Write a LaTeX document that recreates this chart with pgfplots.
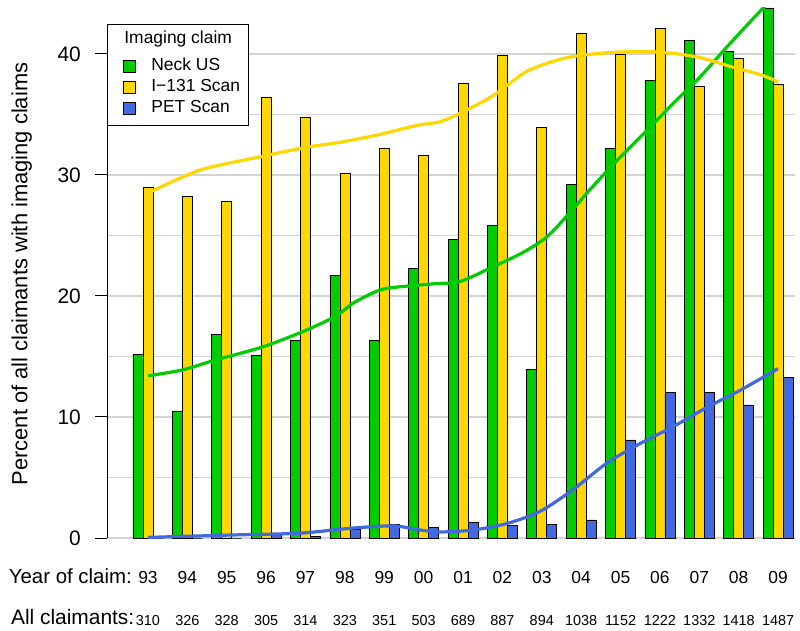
\documentclass[border=0pt]{standalone}
\usepackage{fontspec}
\setmainfont{Liberation Sans}
\usepackage{pgfplots}
\pgfplotsset{compat=1.18}
\definecolor{cgreen}{HTML}{00CD00}
\definecolor{cgold}{HTML}{FFD700}
\definecolor{cblue}{HTML}{4169E1}
\definecolor{cgrid}{HTML}{D3D3D3}
\pgfplotsset{sqlegend/.style={legend image code/.code={\path[draw=none,fill=none] (0bp,0bp) -- (28bp,0bp); \draw[fill=#1,draw=black,line width=0.7bp] (8bp,-8bp) rectangle (20bp,4bp);}}}
\begin{document}
\begin{tikzpicture}
\begin{axis}[
  at={(0,0)}, anchor=south west,
  scale only axis, width=688bp, height=530bp,
  xmin=-1.04, xmax=16.43, ymin=0, ymax=43.8,
  axis line style={draw=none},
  tick align=outside,
  major tick length=12bp, minor tick length=0pt,
  ytick pos=left, xtick pos=bottom,
  /pgf/number format/assume math mode=true,
  xtick={0,...,16},
  xticklabels={93,94,95,96,97,98,99,00,01,02,03,04,05,06,07,08,09},
  xtick style={draw=none},
  xticklabel style={font=\fontsize{17.5}{17.5}\selectfont, anchor=base, yshift=-33bp},
  extra x ticks={0,...,16},
  extra x tick labels={310,326,328,305,314,323,351,503,689,887,894,1038,1152,1222,1332,1418,1487},
  extra x tick style={grid=none, xtick style={draw=none}, xticklabel style={font=\fontsize{14.5}{14.5}\selectfont, yshift=-42bp}},
  ytick={0,10,20,30,40}, minor ytick={5,15,25,35},
  ymajorgrids, yminorgrids,
  major grid style={cgrid, line width=1.2bp},
  minor grid style={cgrid, line width=1.2bp},
  ytick style={black, line width=1bp},
  yticklabel style={font=\fontsize{21}{21}\selectfont, inner xsep=0bp, xshift=-14bp},
  legend style={at={(0,0.9698)}, anchor=north west, draw=black, line width=0.8bp, fill=white,
    inner xsep=8bp, inner ysep=8.5bp, column sep=8bp, row sep=0pt,
    font=\fontsize{17.5}{17.5}\selectfont,
    nodes={inner xsep=0bp, inner ysep=2bp, text height=15bp, text depth=2bp}},
  legend cell align=left,
]
\addlegendimage{empty legend}
\addlegendentry{\hspace*{-27bp}\raisebox{6bp}{Imaging claim}}
\addplot[ybar, bar width=0.254, bar shift=-0.254, fill=cgreen, draw=black, line width=0.7bp, sqlegend=cgreen]
  coordinates {(0,15.2) (1,10.5) (2,16.8) (3,15.1) (4,16.3) (5,21.7) (6,16.3) (7,22.3) (8,24.7) (9,25.8) (10,13.9) (11,29.2) (12,32.2) (13,37.8) (14,41.1) (15,40.2) (16,43.8)};
\addlegendentry{Neck US}
\addplot[ybar, bar width=0.254, bar shift=0, fill=cgold, draw=black, line width=0.7bp, sqlegend=cgold]
  coordinates {(0,29.0) (1,28.2) (2,27.8) (3,36.4) (4,34.8) (5,30.1) (6,32.2) (7,31.6) (8,37.6) (9,39.9) (10,33.9) (11,41.7) (12,40.0) (13,42.1) (14,37.3) (15,39.6) (16,37.5)};
\addlegendentry{I\char"2212 131 Scan}
\addplot[ybar, bar width=0.254, bar shift=0.254, fill=cblue, draw=black, line width=0.7bp, sqlegend=cblue]
  coordinates {(0,0) (1,0) (2,0) (3,0.3) (4,0.1) (5,0.75) (6,1.15) (7,0.85) (8,1.3) (9,1.05) (10,1.15) (11,1.5) (12,8.1) (13,12.0) (14,12.0) (15,11.0) (16,13.3)};
\addlegendentry{PET Scan}
% smoothed trend lines
\addplot[smooth, mark=none, cgreen, line width=3.2bp, forget plot]
  coordinates {(0,13.4) (0.889,13.9) (1.702,14.7) (2.921,15.8) (4.038,17.2) (4.8,18.4) (5.206,19.4) (5.816,20.4) (6.222,20.7) (7.238,21.0) (7.924,21.2) (8.686,22.3) (9.524,23.6) (10.133,24.9) (10.717,26.9) (11.225,28.8) (11.911,31.2) (12.673,33.7) (13.333,35.9) (14.019,38.1) (14.705,40.6) (15.619,43.8) (16,45.1)};
\addplot[smooth, mark=none, cgold, line width=3.2bp, forget plot]
  coordinates {(0,28.5) (1.321,30.4) (2.844,31.5) (4.038,32.3) (4.876,32.7) (5.816,33.3) (6.832,34.1) (7.416,34.4) (7.924,35.1) (8.686,36.4) (9.117,37.4) (9.702,38.7) (10.641,39.7) (11.657,40.1) (12.495,40.2) (13.181,40.1) (14.019,39.7) (14.857,38.9) (15.543,38.3) (16,37.7)};
\addplot[smooth, mark=none, cblue, line width=3.2bp, forget plot]
  coordinates {(0,0.05) (2.159,0.25) (3.86,0.4) (5.13,0.8) (6.22,1.0) (6.91,0.66) (7.416,0.5) (8.254,0.66) (9.117,1.2) (9.956,2.2) (10.794,4.0) (11.657,6.2) (12.495,7.8) (13.333,9.2) (14.197,10.8) (15.035,12.2) (16,14.0)};
\end{axis}
\draw[black, line width=1bp] (0bp,0bp) -- (0bp,484.02bp);
\node[anchor=base east, inner sep=0pt, font=\fontsize{20.5}{20.5}\selectfont] at (25bp,-45bp) {Year of claim:};
\node[anchor=base east, inner sep=0pt, font=\fontsize{21}{21}\selectfont] at (27.5bp,-86bp) {All claimants:};
\node[rotate=90, anchor=base, inner sep=0pt, font=\fontsize{22}{22}\selectfont] at (-79.5bp,264bp) {Percent of all claimants with imaging claims};
\pgfresetboundingbox
\useasboundingbox (-107bp,-93bp) rectangle (693bp,538bp);
\end{tikzpicture}
\end{document}
